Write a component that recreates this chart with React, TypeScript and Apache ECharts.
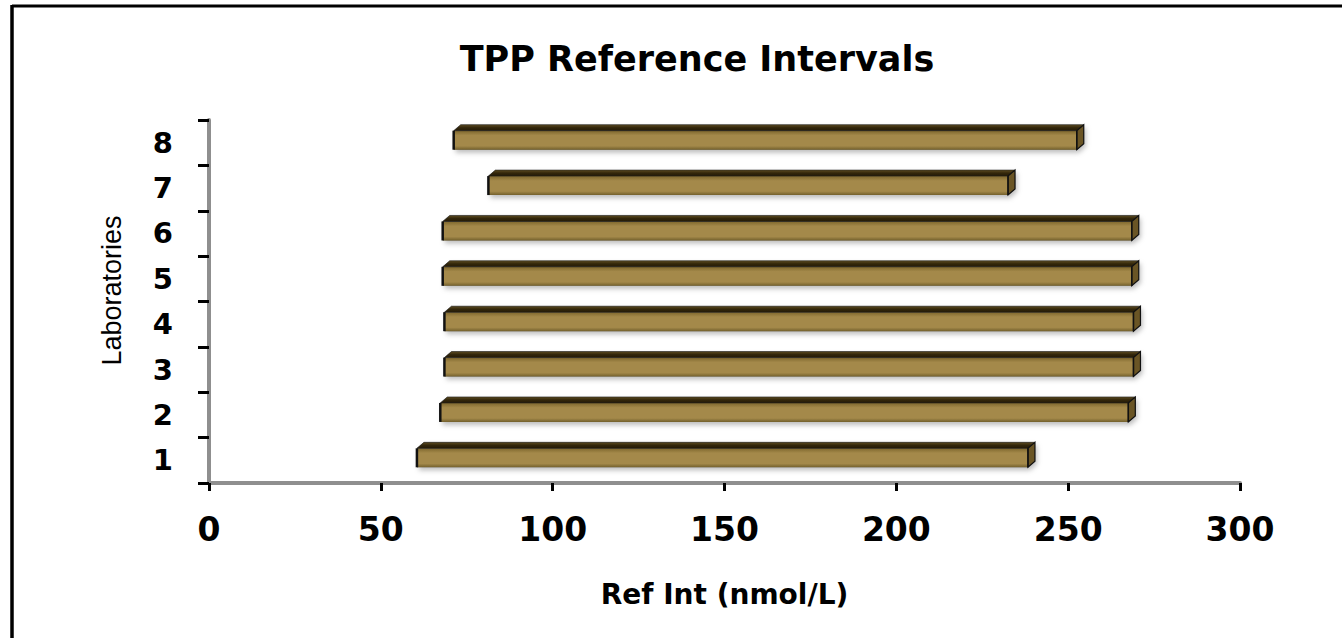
import React, { useEffect, useRef } from "react";
import * as echarts from "echarts";

const laboratories = ["1", "2", "3", "4", "5", "6", "7", "8"];
const lowerLimits = [60.5, 67.3, 68.5, 68.5, 68.0, 68.0, 81.3, 71.2];
const upperLimits = [238.3, 267.5, 269.0, 269.0, 268.5, 268.5, 232.5, 252.5];
const xMin = 0;
const xMax = 300;
const xInterval = 50;

const titleText = "TPP Reference Intervals";
const xName = "Ref Int (nmol/L)";
const yName = "Laboratories";

export default function App() {
  const ref = useRef<HTMLDivElement>(null);

  useEffect(() => {
    if (!ref.current) return;
    const chart = echarts.init(ref.current, undefined, { renderer: "svg" });
    const data = laboratories.map((_, i) => [i, lowerLimits[i], upperLimits[i]]);

    const renderItem = (params: any, api: any) => {
      const idx = api.value(0);
      const lo = api.value(1);
      const hi = api.value(2);
      const a = api.coord([lo, idx]);
      const b = api.coord([hi, idx]);
      const cy = a[1];
      const x0 = a[0];
      const x1 = b[0];
      const yT = cy - 12;
      const yB = cy + 7;
      const dx = 7;
      const dy = 6;
      return {
        type: "group",
        children: [
          {
            type: "polygon",
            shape: {
              points: [
                [x0, yT],
                [x0 + dx, yT - dy],
                [x1 + dx, yT - dy],
                [x1 + dx, yB - dy],
                [x1, yB],
                [x0, yB],
              ],
            },
            style: {
              fill: "rgba(0,0,0,0.4)",
              shadowBlur: 5,
              shadowColor: "rgba(0,0,0,0.65)",
              shadowOffsetX: 2,
              shadowOffsetY: 3,
            },
            silent: true,
          },
          {
            type: "rect",
            shape: { x: x0, y: yT, width: x1 - x0, height: yB - yT },
            style: {
              fill: new echarts.graphic.LinearGradient(0, 0, 0, 1, [
                { offset: 0, color: "#7e672d" },
                { offset: 0.25, color: "#a4894a" },
                { offset: 0.8, color: "#a4894a" },
                { offset: 1, color: "#73602c" },
              ]),
            },
          },
          {
            type: "polygon",
            shape: {
              points: [
                [x0, yT],
                [x0 + dx, yT - dy],
                [x1 + dx, yT - dy],
                [x1, yT],
              ],
            },
            style: {
              fill: new echarts.graphic.LinearGradient(0, 0, 0, 1, [
                { offset: 0, color: "#5e4c20" },
                { offset: 0.5, color: "#33270b" },
                { offset: 1, color: "#241a06" },
              ]),
              stroke: "#222",
              lineWidth: 0.6,
            },
          },
          {
            type: "polygon",
            shape: {
              points: [
                [x1, yT],
                [x1 + dx, yT - dy],
                [x1 + dx, yB - dy],
                [x1, yB],
              ],
            },
            style: { fill: "#6a5525", stroke: "#111", lineWidth: 1.2 },
          },
          {
            type: "line",
            shape: { x1: x0, y1: yT, x2: x0, y2: yB },
            style: { stroke: "#111", lineWidth: 2.5 },
          },
          {
            type: "line",
            shape: { x1: x1, y1: yT, x2: x1, y2: yB },
            style: { stroke: "#111", lineWidth: 1.5 },
          },
        ],
      };
    };

    const axisLine = {
      show: true,
      onZero: false,
      lineStyle: { color: "#8f8f8f", width: 4 },
    };

    chart.setOption({
      animation: false,
      backgroundColor: "#ffffff",
      title: {
        text: titleText,
        left: 692,
        top: 36,
        textAlign: "center",
        textStyle: {
          fontFamily: "DejaVu Sans",
          fontWeight: "bold",
          fontSize: 35,
          color: "#000",
        },
      },
      grid: { left: 209, right: 102, top: 120, bottom: 155, containLabel: false },
      xAxis: {
        type: "value",
        min: xMin,
        max: xMax,
        interval: xInterval,
        name: xName,
        nameLocation: "middle",
        nameGap: 97,
        nameTextStyle: {
          fontFamily: "DejaVu Sans",
          fontWeight: "bold",
          fontSize: 28,
          color: "#000",
        },
        axisLine,
        axisTick: { show: true, length: 8, lineStyle: { color: "#000", width: 3 } },
        axisLabel: {
          margin: 30,
          fontFamily: "DejaVu Sans",
          fontWeight: "bold",
          fontSize: 33,
          color: "#000",
        },
        splitLine: { show: false },
      },
      yAxis: {
        type: "category",
        data: laboratories,
        boundaryGap: true,
        name: yName,
        nameLocation: "middle",
        nameGap: 84,
        nameTextStyle: {
          fontFamily: "Liberation Sans",
          fontSize: 27,
          color: "#000",
          padding: [0, 0, 0, 22],
        },
        axisLine,
        axisTick: { show: true, length: 11, lineStyle: { color: "#000", width: 3 } },
        axisLabel: {
          margin: 36,
          fontFamily: "DejaVu Sans",
          fontWeight: "bold",
          fontSize: 29,
          color: "#000",
        },
        splitLine: { show: false },
      },
      graphic: [
        {
          type: "line",
          shape: { x1: 12, y1: 6, x2: 1342, y2: 6 },
          style: { stroke: "#000", lineWidth: 3 },
        },
        {
          type: "line",
          shape: { x1: 12, y1: 5, x2: 12, y2: 638 },
          style: { stroke: "#000", lineWidth: 3.5 },
        },
      ],
      series: [
        {
          type: "custom",
          renderItem,
          data,
          encode: { x: [1, 2], y: 0 },
          clip: false,
        },
      ],
    });

    return () => chart.dispose();
  }, []);

  return (
    <div
      ref={ref}
      style={{ position: "fixed", left: 0, top: 0, width: "1342px", height: "638px", background: "#fff" }}
    />
  );
}
